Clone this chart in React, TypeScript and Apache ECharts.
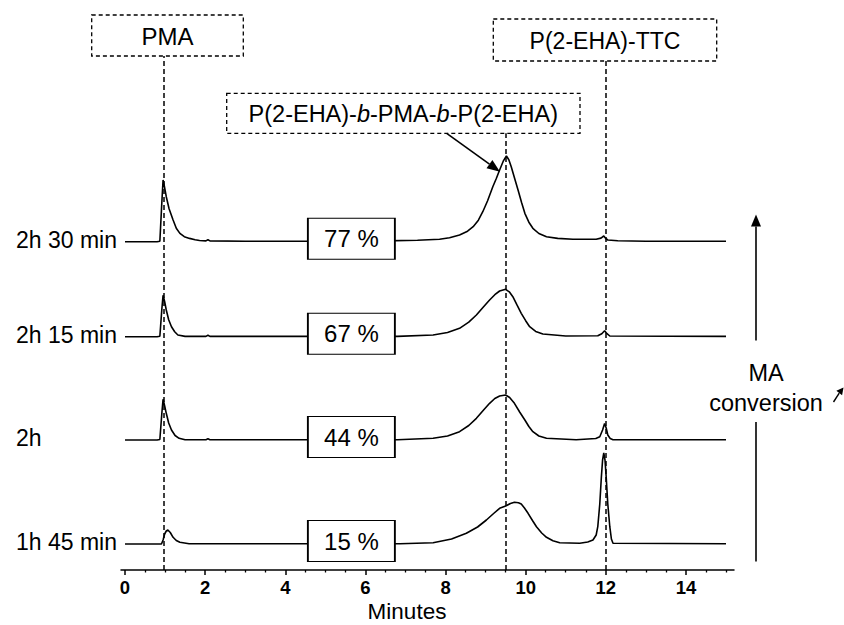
import React, { useEffect, useRef } from "react";
import * as echarts from "echarts";

const FONT = '"Liberation Sans", Arial, Helvetica, sans-serif';

// Run labels, baselines (a.u. above axis), conversions
const runLabels = ["2h 30 min", "2h 15 min", "2h", "1h 45 min"];
const runOffsets = [328.3, 233.3, 130, 26];
const conversions = ["77 %", "67 %", "44 %", "15 %"];
const conversionX = 5.65;

// Traces: [minutes, signal above baseline]
const trace2h30: number[][] = [
  [0, 0], [0.8, 0], [0.87, 0.5], [0.92, 40], [0.95, 61.7], [0.98, 56], [1.03, 45], [1.1, 33], [1.2, 21.7], [1.28, 13.5],
  [1.37, 8.3], [1.48, 5], [1.61, 3.3], [1.75, 2], [1.86, 1.2], [2.02, 0.8], [2.07, 2], [2.12, 0.8], [3, 0.5],
  [5, 0.5], [6.5, 0.8], [7.3, 1.5], [7.85, 2.4], [8.1, 4], [8.35, 6.7], [8.55, 10.5], [8.69, 15], [8.82, 21.5],
  [8.93, 30], [9.05, 41], [9.18, 55], [9.27, 63.5], [9.35, 71.7], [9.44, 80.5], [9.52, 85.7], [9.58, 82],
  [9.64, 75], [9.72, 64], [9.81, 51.7], [9.9, 39], [9.98, 28.4], [10.08, 19.5], [10.18, 13.4], [10.33, 8.2],
  [10.52, 5], [10.8, 3.3], [11.18, 2.4], [11.76, 2.4], [11.88, 3.6], [11.95, 5.7], [12.0, 3.2], [12.05, 1.7],
  [12.3, 1], [13, 0.5], [15, 0.5],
];
const trace2h15: number[][] = [
  [0, 0], [0.8, 0], [0.87, 0.5], [0.92, 28], [0.95, 41.5], [0.99, 35], [1.03, 26.7], [1.09, 17], [1.16, 10],
  [1.24, 5], [1.32, 1.7], [1.5, 0.3], [2.02, 0.3], [2.07, 1.5], [2.12, 0.3], [6.8, 0.3], [7.69, 1.7],
  [8.05, 4.2], [8.35, 8.4], [8.58, 14.5], [8.77, 21.7], [8.95, 30], [9.1, 36.7], [9.23, 42], [9.35, 45.7],
  [9.5, 47.4], [9.6, 44.5], [9.68, 40], [9.78, 32], [9.89, 23.4], [10.0, 16], [10.1, 10], [10.25, 5.3],
  [10.43, 2.7], [11, 0.7], [11.8, 0.9], [11.9, 3], [11.97, 6], [12.03, 3], [12.1, 0.7], [15, 0.3],
];
const trace2h: number[][] = [
  [0, 0], [0.8, 0], [0.87, 0.5], [0.92, 27], [0.95, 40.7], [0.99, 34], [1.03, 26.7], [1.09, 17], [1.16, 10],
  [1.25, 4.5], [1.35, 1.7], [1.5, 0.3], [2.02, 0.3], [2.07, 1.2], [2.12, 0.3], [6.8, 0.3], [7.69, 1.7],
  [8.05, 4], [8.35, 8.3], [8.58, 14.5], [8.77, 21.7], [8.95, 30], [9.1, 36.7], [9.23, 41.5], [9.35, 44],
  [9.5, 45], [9.6, 42.5], [9.72, 36.7], [9.85, 28], [9.98, 20], [10.08, 13.5], [10.18, 8.3], [10.33, 4],
  [10.52, 1.7], [11.26, 0.3], [11.75, 1.5], [11.85, 3.3], [11.92, 10], [11.97, 16.5], [12.01, 12],
  [12.05, 5], [12.11, 1.5], [12.18, 0.3], [15, 0.3],
];
const trace1h45: number[][] = [
  [0, 0], [0.91, 0], [0.95, 4], [0.99, 10], [1.03, 13], [1.07, 14], [1.13, 11.5], [1.2, 6.7], [1.28, 3.5],
  [1.37, 1.7], [1.6, 0.3], [6.86, 0.3], [7.69, 1.3], [8.15, 5], [8.52, 10.7], [8.8, 17], [9.02, 24],
  [9.2, 30.5], [9.35, 35.7], [9.5, 38], [9.62, 40.5], [9.72, 41.7], [9.82, 41.3], [9.89, 40], [9.97, 36],
  [10.06, 30.7], [10.17, 23.5], [10.27, 17.3], [10.4, 11], [10.52, 6.7], [10.68, 3.3], [10.85, 1.3],
  [11.35, 0.7], [11.55, 2], [11.68, 4], [11.76, 9], [11.8, 17.3], [11.85, 40], [11.89, 67.3], [11.92, 84],
  [11.95, 91], [11.98, 84], [12.01, 67], [12.05, 40], [12.1, 17.3], [12.14, 5], [12.18, 0.7], [15, 0.3],
];
const traces = [trace2h30, trace2h15, trace2h, trace1h45];

// Axis ticks
const majorTicks = [0, 2, 4, 6, 8, 10, 12, 14];
const minorTicks = [
  0.5, 1, 1.5, 2.5, 3, 3.5, 4.5, 5, 5.5, 6.5, 7, 7.5, 8.5, 9, 9.5, 10.5, 11, 11.5, 12.5, 13, 13.5, 14.5, 15,
];

// Reference retention times (dashed lines) and their top ends
const refTimes = [0.96, 9.5, 12];
const refTops = [514, 436.7, 509];

function arrowHead(tx: number, ty: number, dx: number, dy: number, len: number, half: number) {
  const n = Math.hypot(dx, dy);
  const ux = dx / n;
  const uy = dy / n;
  const bx = tx - ux * len;
  const by = ty - uy * len;
  const px = -uy * half;
  const py = ux * half;
  return {
    base: [bx, by],
    points: [
      [tx, ty],
      [bx + px, by + py],
      [bx - px, by - py],
    ],
  };
}

export default function App() {
  const ref = useRef<HTMLDivElement>(null);

  useEffect(() => {
    if (!ref.current) return;
    const chart = echarts.init(ref.current, undefined, { renderer: "svg" });

    const series: any[] = traces.map((tr, i) => ({
      type: "line",
      name: runLabels[i],
      xAxisIndex: 0,
      yAxisIndex: 0,
      data: tr.map(([x, h]) => [x, h + runOffsets[i]]),
      showSymbol: false,
      symbol: "none",
      smooth: false,
      lineStyle: { color: "#000", width: 1.6 },
      silent: true,
      z: 3,
      markPoint: {
        silent: true,
        symbol: "rect",
        symbolSize: [87, 41],
        itemStyle: { color: "#fff", borderColor: "#000", borderWidth: 1.3 },
        label: {
          show: true,
          position: "inside",
          formatter: conversions[i],
          color: "#000",
          fontSize: 24,
          fontFamily: FONT,
        },
        data: [{ coord: [conversionX, runOffsets[i] + 3] }],
      },
      markLine:
        i === 0
          ? {
              silent: true,
              symbol: ["none", "none"],
              label: { show: false },
              lineStyle: { color: "#000", width: 1.5, type: [5, 3] },
              data: refTimes.map((t, k) => [{ coord: [t, 0] }, { coord: [t, refTops[k]] }]),
            }
          : undefined,
    }));

    const arrowA = arrowHead(500, 171.7, 53.3, 38.4, 13, 5);
    const arrowB = arrowHead(756, 214.6, 0, -1, 12, 5);
    const arrowC = arrowHead(843.5, 387.5, 1, -1.3, 7, 3.6);

    const dashed = { stroke: "#000", lineWidth: 1.3, lineDash: [4, 3], fill: "none" };

    const graphic: any[] = [
      // row labels
      ...runLabels.map((t, i) => ({
        type: "text",
        x: 16,
        y: 570 - runOffsets[i] - 2,
        z: 20,
        style: { text: t, fontSize: 23, fontFamily: FONT, fill: "#000", textAlign: "left", textVerticalAlign: "middle" },
      })),
      // PMA box
      { type: "rect", z: 20, shape: { x: 91.7, y: 15, width: 151.6, height: 41 }, style: dashed },
      {
        type: "text",
        z: 21,
        x: 167.5,
        y: 36,
        style: { text: "PMA", fontSize: 24, fontFamily: FONT, fill: "#000", textAlign: "center", textVerticalAlign: "middle" },
      },
      // block copolymer box
      { type: "rect", z: 20, shape: { x: 226.7, y: 93.3, width: 353.3, height: 40 }, style: dashed },
      {
        type: "text",
        z: 21,
        x: 403.3,
        y: 114,
        style: {
          text: "{n|P(2-EHA)-}{i|b}{n|-PMA-}{i|b}{n|-P(2-EHA)}",
          textAlign: "center",
          textVerticalAlign: "middle",
          rich: {
            n: { fontSize: 23.5, fontFamily: FONT, fill: "#000", color: "#000" },
            i: { fontSize: 23.5, fontFamily: FONT, fontStyle: "italic", fill: "#000", color: "#000" },
          },
        },
      },
      // TTC box
      { type: "rect", z: 20, shape: { x: 493.3, y: 19, width: 223.4, height: 42 }, style: dashed },
      {
        type: "text",
        z: 21,
        x: 605,
        y: 40.5,
        style: { text: "P(2-EHA)-TTC", fontSize: 23, fontFamily: FONT, fill: "#000", textAlign: "center", textVerticalAlign: "middle" },
      },
      // pointing arrow
      {
        type: "line",
        z: 20,
        shape: { x1: 446.7, y1: 133.3, x2: arrowA.base[0], y2: arrowA.base[1] },
        style: { stroke: "#000", lineWidth: 1.6 },
      },
      { type: "polygon", z: 20, shape: { points: arrowA.points }, style: { fill: "#000" } },
      // MA conversion arrow
      { type: "line", z: 20, shape: { x1: 756, y1: arrowB.base[1], x2: 756, y2: 340.5 }, style: { stroke: "#000", lineWidth: 1.6 } },
      { type: "line", z: 20, shape: { x1: 756, y1: 422, x2: 756, y2: 561.6 }, style: { stroke: "#000", lineWidth: 1.6 } },
      { type: "polygon", z: 20, shape: { points: arrowB.points }, style: { fill: "#000" } },
      {
        type: "text",
        z: 21,
        x: 766,
        y: 373,
        style: { text: "MA", fontSize: 23.5, fontFamily: FONT, fill: "#000", textAlign: "center", textVerticalAlign: "middle" },
      },
      {
        type: "text",
        z: 21,
        x: 766,
        y: 403,
        style: { text: "conversion", fontSize: 23.5, fontFamily: FONT, fill: "#000", textAlign: "center", textVerticalAlign: "middle" },
      },
      { type: "line", z: 20, shape: { x1: 833.5, y1: 402, x2: arrowC.base[0], y2: arrowC.base[1] }, style: { stroke: "#000", lineWidth: 1.4 } },
      { type: "polygon", z: 20, shape: { points: arrowC.points }, style: { fill: "#000" } },
      // axis title
      {
        type: "text",
        z: 21,
        x: 407,
        y: 611,
        style: { text: "Minutes", fontSize: 22.5, fontFamily: FONT, fill: "#000", textAlign: "center", textVerticalAlign: "middle" },
      },
    ];

    chart.setOption({
      animation: false,
      backgroundColor: "#fff",
      grid: { left: 121, right: 110, top: 0, bottom: 55, containLabel: false },
      xAxis: [
        {
          type: "value",
          min: -0.1,
          max: 15.2,
          position: "bottom",
          axisLine: { show: true, onZero: false, lineStyle: { color: "#000", width: 1.5 } },
          axisTick: { show: true, customValues: majorTicks, length: 5, lineStyle: { color: "#000", width: 1.5 } },
          axisLabel: {
            show: true,
            customValues: majorTicks,
            color: "#000",
            fontSize: 18.5,
            fontWeight: "bold",
            fontFamily: FONT,
            margin: 8,
          },
          splitLine: { show: false },
        },
        {
          type: "value",
          min: -0.1,
          max: 15.2,
          position: "bottom",
          offset: 0,
          axisLine: { show: false, onZero: false },
          axisTick: { show: true, customValues: minorTicks, length: 2.5, lineStyle: { color: "#000", width: 1.3 } },
          axisLabel: { show: false },
          splitLine: { show: false },
        },
      ],
      yAxis: { type: "value", min: 0, max: 570, show: false, splitLine: { show: false } },
      series,
      graphic,
    });

    return () => chart.dispose();
  }, []);

  return (
    <div
      ref={ref}
      style={{ position: "fixed", left: 0, top: 0, width: 844, height: 625, background: "#fff" }}
    />
  );
}
